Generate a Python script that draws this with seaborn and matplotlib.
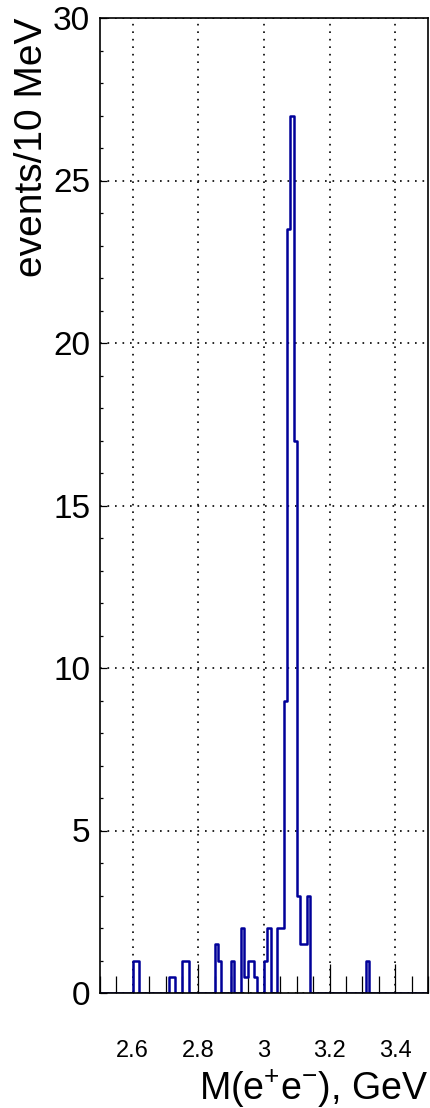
import numpy as np
import pandas as pd
import matplotlib
matplotlib.use("Agg")
import matplotlib.pyplot as plt
from matplotlib.ticker import MultipleLocator, FuncFormatter
import seaborn as sns

# bin contents: lower edge of each 10 MeV bin (GeV) and entries
bin_low = [2.60, 2.61, 2.71, 2.72, 2.75, 2.76, 2.85, 2.86, 2.90,
           2.93, 2.94, 2.95, 2.96, 2.97, 3.00, 3.01, 3.04, 3.05,
           3.06, 3.07, 3.08, 3.09, 3.10, 3.11, 3.12, 3.13, 3.31]
events = [1, 1, 0.5, 0.5, 1, 1, 1.5, 1, 1,
          2, 0.5, 1, 1, 0.5, 1, 2, 2, 2,
          9, 23.5, 27, 17, 3, 1.5, 1.5, 3, 1]

x_range = (2.5, 3.5)
y_range = (0, 30)
bin_width = 0.01

sns.set_style("ticks")
plt.rcParams["font.family"] = ["Liberation Sans", "DejaVu Sans"]
plt.rcParams["mathtext.default"] = "regular"
plt.rcParams["text.color"] = "black"
plt.rcParams["axes.labelcolor"] = "black"
plt.rcParams["xtick.color"] = "black"
plt.rcParams["ytick.color"] = "black"

df = pd.DataFrame({"mass": np.array(bin_low) + bin_width / 2, "events": events})

fig = plt.figure(figsize=(4.30, 11.08), dpi=100)
ax = fig.add_axes([100 / 430, 1 - 993 / 1108, 328 / 430, 975 / 1108])

sns.histplot(data=df, x="mass", weights="events",
             binwidth=bin_width, binrange=x_range,
             element="step", fill=False, color="#000099",
             linewidth=1.8, ax=ax)

ax.set_xlim(*x_range)
ax.set_ylim(*y_range)

ax.xaxis.set_major_locator(MultipleLocator(0.2))
ax.xaxis.set_minor_locator(MultipleLocator(0.05))
ax.yaxis.set_major_locator(MultipleLocator(5))
ax.yaxis.set_minor_locator(MultipleLocator(1))
ax.xaxis.set_major_formatter(FuncFormatter(lambda v, p: f"{v:g}"))

ax.tick_params(axis="x", which="major", direction="in", length=21, width=0.9,
               labelsize=17, pad=34, color="black", labelcolor="black")
ax.tick_params(axis="x", which="minor", direction="in", length=12, width=0.9,
               color="black")
ax.tick_params(axis="y", which="major", direction="in", length=5, width=0.9,
               labelsize=24, pad=7, color="black", labelcolor="black")
ax.tick_params(axis="y", which="minor", direction="in", length=2.5, width=0.9,
               color="black")
ax.tick_params(top=False, right=False)

ax.grid(which="major", color="black", linestyle=(0, (1, 3.5)), linewidth=1.2)

for sp in ax.spines.values():
    sp.set_linewidth(1.2)
    sp.set_color("black")
    sp.set_visible(True)

ax.set_ylabel("events/10 MeV", fontsize=28, ha="right", va="baseline")
ax.yaxis.set_label_coords(-0.177, 1.0)
ax.set_xlabel("M(e$^{+}$e$^{-}$), GeV", fontsize=27, ha="right", va="baseline")
ax.xaxis.set_label_coords(1.0, -0.11)

fig.savefig("out.png", dpi=100)
